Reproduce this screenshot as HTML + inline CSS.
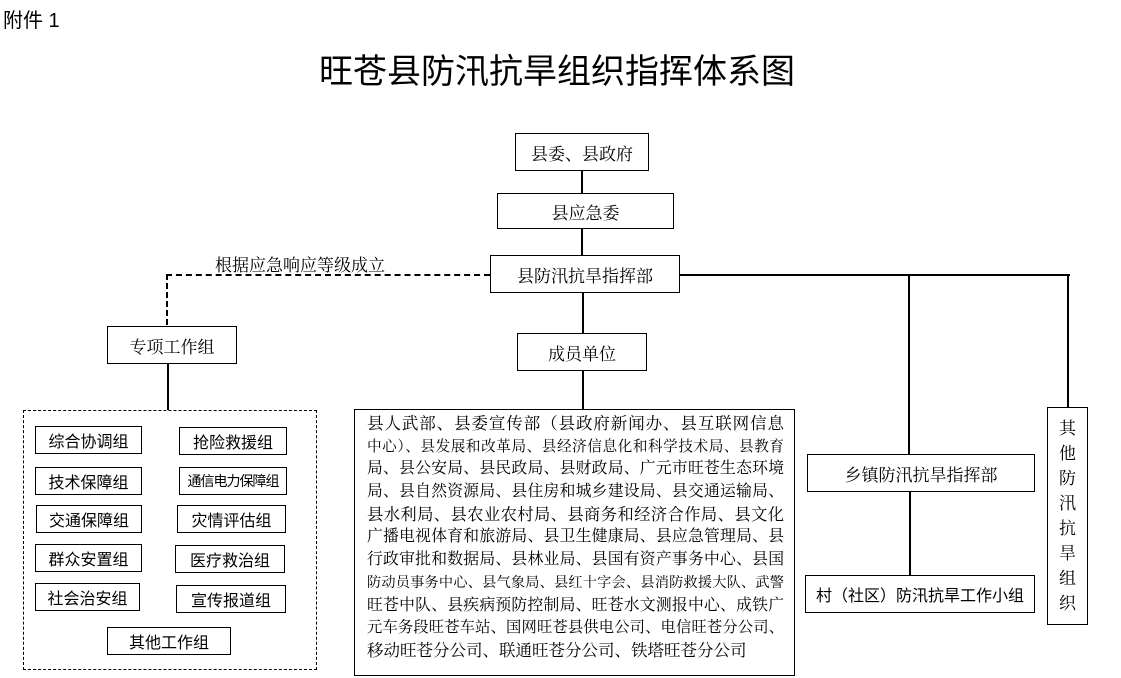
<!DOCTYPE html>
<html><head><meta charset="utf-8"><style>
body{margin:0;width:1121px;height:678px;background:#fff;position:relative;overflow:hidden;font-family:"Liberation Serif","Noto Serif CJK SC",serif;color:#000}
.a{position:absolute;box-sizing:border-box}
.b{position:absolute;box-sizing:border-box;border:1.5px solid #000;display:flex;align-items:center;justify-content:center;font-size:17px;white-space:nowrap}
.s{font-family:"Liberation Sans","Noto Sans CJK SC",sans-serif;font-size:16px}
.h{position:absolute;height:2px;background:#000}
.v{position:absolute;width:2px;background:#000}
.m div{text-align:justify;text-align-last:justify;height:22.7px;line-height:22.7px;white-space:nowrap;overflow:visible}
</style></head><body>
<div class="a" style="left:3px;top:4px;font-size:20px;font-family:'Liberation Sans','Noto Sans CJK SC',sans-serif">附件 1</div>
<div class="a" style="left:0;width:1114px;top:44px;text-align:center;font-size:34px;font-family:'Liberation Sans','Noto Sans CJK SC',sans-serif">旺苍县防汛抗旱组织指挥体系图</div>

<div class="b" style="left:515px;top:133px;width:134px;height:38px">县委、县政府</div>
<div class="v" style="left:581px;top:171px;height:22px"></div>
<div class="b" style="left:497px;top:193px;width:177px;height:36px">县应急委</div>
<div class="v" style="left:581px;top:229px;height:26px"></div>
<div class="b" style="left:490px;top:255px;width:190px;height:38px">县防汛抗旱指挥部</div>
<div class="a" style="left:215px;top:251px;font-size:17px">根据应急响应等级成立</div>
<div class="a" style="left:166px;top:274px;width:324px;border-top:2px dashed #000"></div>
<div class="a" style="left:166px;top:274px;height:51px;border-left:2px dashed #000"></div>
<div class="b" style="left:107px;top:326px;width:130px;height:38px">专项工作组</div>
<div class="v" style="left:167px;top:364px;height:46px"></div>
<div class="v" style="left:582px;top:293px;height:40px"></div>
<div class="b" style="left:517px;top:333px;width:130px;height:38px">成员单位</div>
<div class="v" style="left:582px;top:371px;height:38px"></div>

<div class="h" style="left:680px;top:274px;width:390px"></div>
<div class="v" style="left:908px;top:274px;height:180px"></div>
<div class="v" style="left:1067px;top:274px;height:133px"></div>
<div class="b" style="left:807px;top:454px;width:228px;height:38px">乡镇防汛抗旱指挥部</div>
<div class="v" style="left:909px;top:492px;height:83px"></div>
<div class="b s" style="left:805px;top:575px;width:230px;height:38px">村（社区）防汛抗旱工作小组</div>
<div class="b" style="left:1047px;top:407px;width:41px;height:218px;white-space:normal;flex-direction:column;line-height:25px;font-size:17px"><span>其</span><span>他</span><span>防</span><span>汛</span><span>抗</span><span>旱</span><span>组</span><span>织</span></div>

<div class="a" style="left:23px;top:410px;width:294px;height:260px;border:1.5px dashed #000"></div>
<div class="b s" style="left:35px;top:426px;width:107px;height:28px">综合协调组</div>
<div class="b s" style="left:179px;top:427px;width:108px;height:28px">抢险救援组</div>
<div class="b s" style="left:35px;top:467px;width:107px;height:28px">技术保障组</div>
<div class="b s" style="left:179px;top:467px;width:108px;height:28px;font-size:14px;letter-spacing:-1px">通信电力保障组</div>
<div class="b s" style="left:36px;top:505px;width:106px;height:28px">交通保障组</div>
<div class="b s" style="left:177px;top:505px;width:109px;height:28px">灾情评估组</div>
<div class="b s" style="left:35px;top:544px;width:107px;height:28px">群众安置组</div>
<div class="b s" style="left:175px;top:545px;width:110px;height:28px">医疗救治组</div>
<div class="b s" style="left:35px;top:583px;width:105px;height:28px">社会治安组</div>
<div class="b s" style="left:176px;top:585px;width:110px;height:28px">宣传报道组</div>
<div class="b s" style="left:107px;top:627px;width:124px;height:28px">其他工作组</div>

<div class="a" style="left:354px;top:409px;width:441px;height:267px;border:1.5px solid #000"></div>
<div class="a m" style="left:367px;top:413px;width:417px">
<div style="font-size:16.5px">县人武部、县委宣传部（县政府新闻办、县互联网信息</div>
<div style="font-size:14.6px">中心）、县发展和改革局、县经济信息化和科学技术局、县教育</div>
<div style="font-size:15.8px">局、县公安局、县民政局、县财政局、广元市旺苍生态环境</div>
<div style="font-size:15.8px">局、县自然资源局、县住房和城乡建设局、县交通运输局、</div>
<div style="font-size:16.3px">县水利局、县农业农村局、县商务和经济合作局、县文化</div>
<div style="font-size:15.8px">广播电视体育和旅游局、县卫生健康局、县应急管理局、县</div>
<div style="font-size:15.8px">行政审批和数据局、县林业局、县国有资产事务中心、县国</div>
<div style="font-size:14.2px">防动员事务中心、县气象局、县红十字会、县消防救援大队、武警</div>
<div style="font-size:15.8px">旺苍中队、县疾病预防控制局、旺苍水文测报中心、成铁广</div>
<div style="font-size:15.3px">元车务段旺苍车站、国网旺苍县供电公司、电信旺苍分公司、</div>
<div style="text-align-last:left;font-size:16.5px">移动旺苍分公司、联通旺苍分公司、铁塔旺苍分公司</div>
</div>
</body></html>
